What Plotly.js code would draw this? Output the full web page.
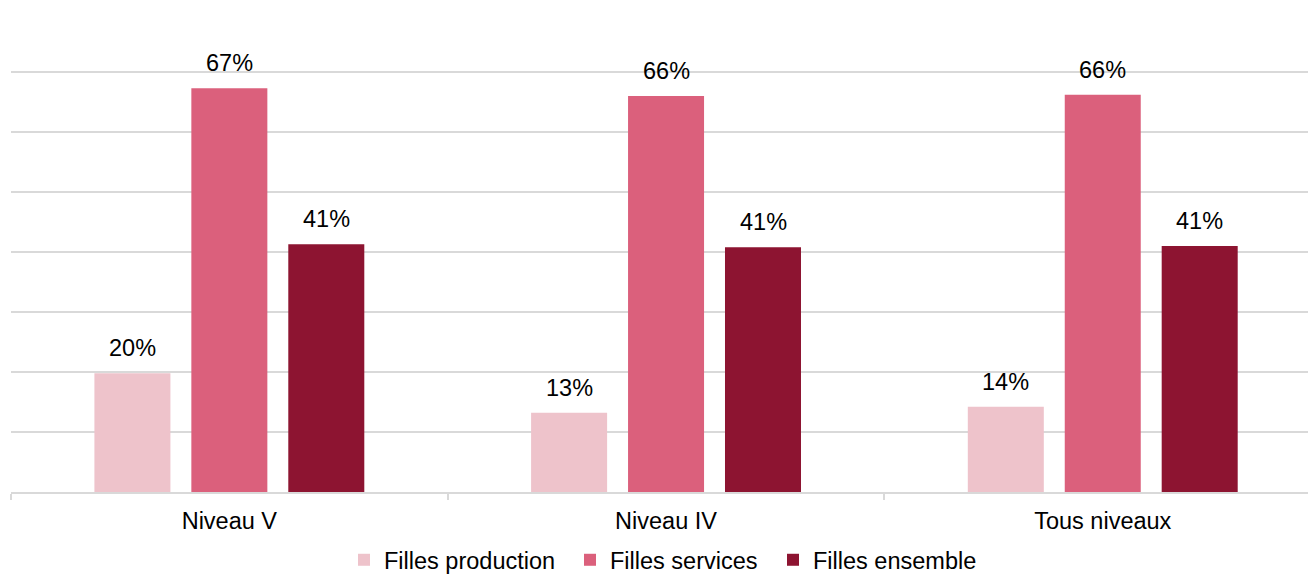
<!DOCTYPE html>
<html>
<head>
<meta charset="utf-8">
<script src="https://cdn.plot.ly/plotly-3.0.1.min.js"></script>
<style>html,body{margin:0;padding:0;background:#fff;}#chart{width:1309px;height:574px;}</style>
</head>
<body>
<div id="chart"></div>
<script>
const categories = ["Niveau V", "Niveau IV", "Tous niveaux"];
const seriesNames = ["Filles production", "Filles services", "Filles ensemble"];
const production = [19.8, 13.2, 14.2];
const services = [67.3, 66.0, 66.2];
const ensemble = [41.3, 40.8, 41.0];
const productionLabels = ["20%", "13%", "14%"];
const servicesLabels = ["67%", "66%", "66%"];
const ensembleLabels = ["41%", "41%", "41%"];
const colors = ["#eec3cb", "#db607c", "#8d1431"];

const FONT = "Liberation Sans, Arial, sans-serif";
const FS = 23.5;
const bargap = 0.334;
const bargroupgap = 0.216;
const W = 1309, H = 574;
const legendLeftPx = [344, 570, 773];
const legendTopPx = 538;

const seriesValues = [production, services, ensemble];
const seriesLabels = [productionLabels, servicesLabels, ensembleLabels];
const legendIds = ["legend", "legend2", "legend3"];

const traces = seriesValues.map((vals, j) => ({
  type: "bar",
  name: seriesNames[j],
  x: categories,
  y: vals,
  legend: legendIds[j],
  marker: {color: colors[j], line: {width: 0}},
  hoverinfo: "skip"
}));

const slot = (1 - bargap) / seriesValues.length;
const annotations = [];
seriesValues.forEach((vals, j) => {
  vals.forEach((v, i) => {
    annotations.push({
      x: i + (j - (seriesValues.length - 1) / 2) * slot,
      y: v,
      xref: "x", yref: "y",
      text: seriesLabels[j][i],
      showarrow: false,
      xanchor: "center", yanchor: "bottom",
      yshift: 10,
      font: {family: FONT, size: FS, color: "#000"}
    });
  });
});

const layout = {
  width: W, height: H,
  margin: {l: 11, r: 1, t: 12, b: 82, pad: 0, autoexpand: false},
  paper_bgcolor: "#fff", plot_bgcolor: "#fff",
  font: {family: FONT, size: FS, color: "#000"},
  barmode: "group",
  bargap: bargap,
  bargroupgap: bargroupgap,
  showlegend: true,
  xaxis: {
    type: "category",
    range: [-0.5, 2.47],
    tickson: "boundaries",
    ticks: "outside", ticklen: 6, tickwidth: 2, tickcolor: "#d9d9d9",
    ticklabelstandoff: 7,
    showline: true, linecolor: "#d9d9d9", linewidth: 2,
    showgrid: false, zeroline: false,
    tickfont: {family: FONT, size: FS, color: "#000"},
    fixedrange: true
  },
  yaxis: {
    range: [0, 80], dtick: 10, tick0: 0,
    showticklabels: false, ticks: "",
    showgrid: true, gridcolor: "#d9d9d9", gridwidth: 2,
    zeroline: false, showline: false, fixedrange: true
  },
  annotations: annotations,
  hovermode: false
};

legendIds.forEach((id, j) => {
  layout[id] = {
    orientation: "h",
    xref: "container", yref: "container",
    x: legendLeftPx[j] / W, xanchor: "left",
    y: (H - legendTopPx) / H, yanchor: "top",
    bgcolor: "rgba(0,0,0,0)", borderwidth: 0,
    font: {family: FONT, size: FS, color: "#000"},
    itemclick: false, itemdoubleclick: false
  };
});

Plotly.newPlot("chart", traces, layout, {displayModeBar: false, staticPlot: true});
</script>
</body>
</html>
